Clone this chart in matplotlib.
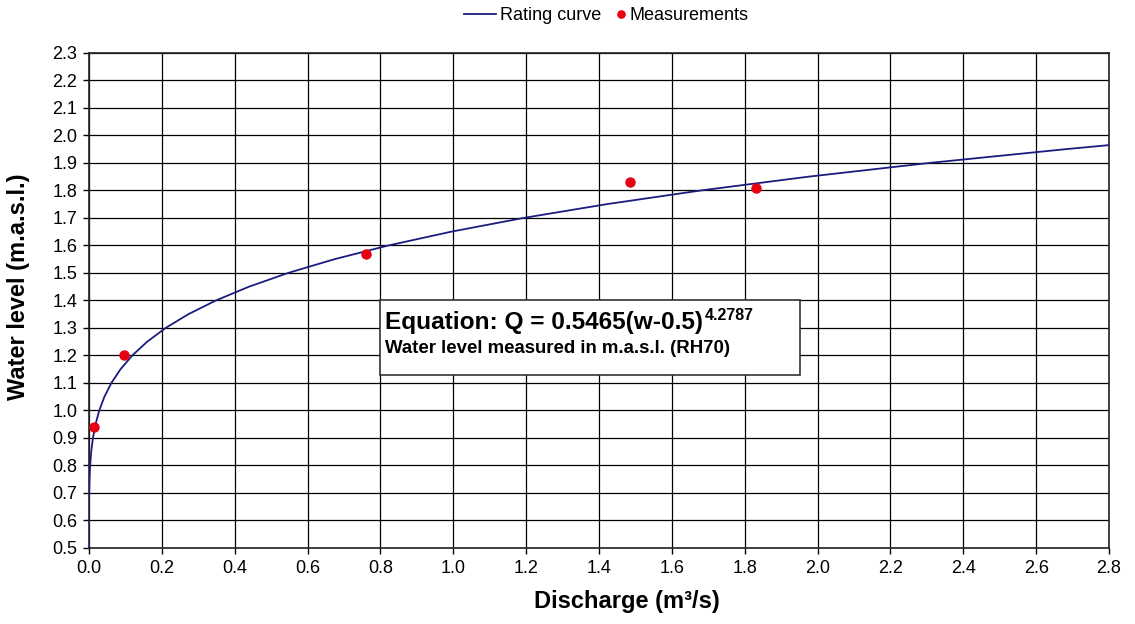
import matplotlib
matplotlib.use("Agg")
import matplotlib.pyplot as plt
from matplotlib.ticker import MultipleLocator, FormatStrFormatter

plt.rcParams['font.family'] = ['Liberation Sans', 'DejaVu Sans']

# Rating curve (water level, discharge)
curve_level = [0.50, 0.55, 0.60, 0.65, 0.70, 0.75, 0.80, 0.85, 0.90, 0.95,
               1.00, 1.05, 1.10, 1.15, 1.20, 1.25, 1.30, 1.35, 1.40, 1.45,
               1.50, 1.55, 1.60, 1.65, 1.70, 1.75, 1.80, 1.85, 1.90, 1.95, 1.965]
curve_q = [0.0, 0.000003, 0.00003, 0.000163, 0.00056, 0.00145, 0.00317, 0.00612,
           0.01084, 0.01794, 0.02815, 0.04234, 0.06141, 0.08652, 0.1188, 0.1596,
           0.2103, 0.2726, 0.3482, 0.4388, 0.5465, 0.6734, 0.8217, 0.9938, 1.1922,
           1.4199, 1.6792, 1.9736, 2.3059, 2.6795, 2.80]

# Measurements
meas_q = [0.015, 0.095, 0.76, 1.485, 1.83]
meas_level = [0.94, 1.20, 1.57, 1.83, 1.81]

fig = plt.figure(figsize=(11.35, 6.24), dpi=100)
ax = fig.add_axes([0.0784, 0.1218, 0.8987, 0.7933])

line, = ax.plot(curve_q, curve_level, color='#1c1c80', lw=1.3, label='Rating curve', zorder=3)
pts, = ax.plot(meas_q, meas_level, 'o', color='#e60012', ms=6.5, label='Measurements', zorder=4)

ax.set_xlim(0, 2.8)
ax.set_ylim(0.5, 2.3)
ax.xaxis.set_major_locator(MultipleLocator(0.2))
ax.yaxis.set_major_locator(MultipleLocator(0.1))
ax.xaxis.set_major_formatter(FormatStrFormatter('%.1f'))
ax.yaxis.set_major_formatter(FormatStrFormatter('%.1f'))
ax.grid(True, color='black', lw=0.9)
ax.set_axisbelow(True)
for s in ax.spines.values():
    s.set_color('#222222')
    s.set_linewidth(1.2)
ax.tick_params(direction='out', length=4, width=1, labelsize=13, colors='black', pad=4.5)

fig.text(0.5524, 0.0353, 'Discharge (m³/s)', fontsize=17, fontweight='bold',
         ha='center', va='center')
fig.text(0.0159, 0.54, 'Water level (m.a.s.l.)', fontsize=17, fontweight='bold',
         ha='center', va='center', rotation=90)

# Equation box
ax.add_patch(plt.Rectangle((0.80, 1.129), 1.152, 0.271, facecolor='white',
                           edgecolor='#333333', lw=1.2, zorder=5))
t = ax.text(0.8126, 1.296, 'Equation: Q = 0.5465(w-0.5)', fontsize=17.6,
            fontweight='bold', zorder=6, va='baseline')
ax.annotate('4.2787', xy=(1.0, 1.0), xycoords=t, xytext=(1.5, 2), textcoords='offset points',
            fontsize=11.5, fontweight='bold', va='top', ha='left', zorder=6)
ax.text(0.8126, 1.209, 'Water level measured in m.a.s.l. (RH70)', fontsize=13.4,
        fontweight='bold', zorder=6, va='baseline')

fig.legend(handles=[line], loc='center left', bbox_to_anchor=(0.4088, 0.975),
           frameon=False, fontsize=13, handlelength=1.78, handletextpad=0.2,
           borderpad=0, borderaxespad=0)
fig.legend(handles=[pts], loc='center left', bbox_to_anchor=(0.5432, 0.975),
           frameon=False, fontsize=13, handlelength=0.5, handletextpad=0.2,
           borderpad=0, borderaxespad=0, markerscale=0.8)

fig.savefig('out.png', dpi=100)
